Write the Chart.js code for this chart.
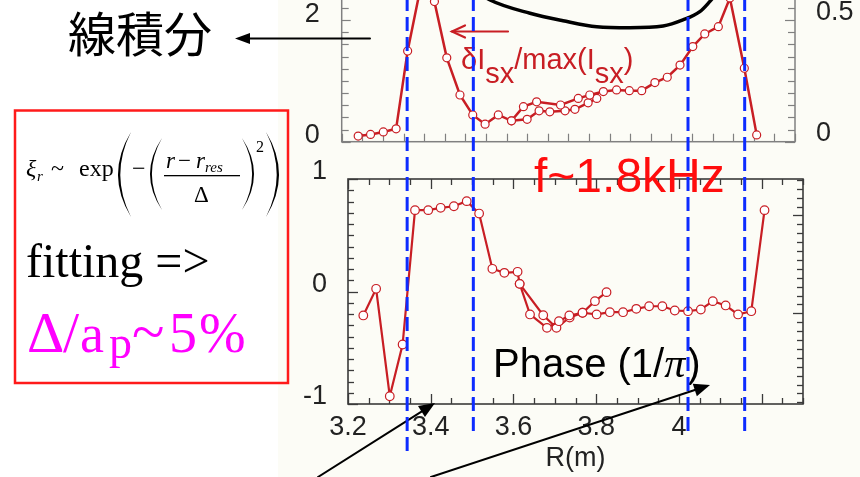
<!DOCTYPE html>
<html>
<head>
<meta charset="utf-8">
<script src="https://cdn.jsdelivr.net/npm/chart.js@4"></script>
<style>
  html, body { margin: 0; padding: 0; background: #fff; overflow: hidden; }
  #stage { position: relative; width: 860px; height: 477px; overflow: hidden; background: #fff; }
  #tint { position: absolute; left: 278px; top: 0; width: 582px; height: 477px; background: #fcfcf6; }
  canvas { position: absolute; left: 0; }
  #phase { top: 0; }
  #profile { top: -80px; }
  #notes { top: 0; pointer-events: none; }
</style>
</head>
<body>
<div id="stage">
  <div id="tint"></div>
  <canvas id="phase" width="860" height="477"></canvas>
  <canvas id="profile" width="860" height="260"></canvas>
  <canvas id="notes" width="860" height="477"></canvas>
</div>
<script>
// ---- upper panel: line-integrated SX (left axis) ----
const lineIntR   = [3.50, 3.560, 3.657, 3.737, 3.819, 3.899, 3.980, 4.028, 4.069, 4.093, 4.13];
const lineIntVal = [2.60, 2.330, 2.112, 1.990, 1.891, 1.875, 1.903, 2.002, 2.138, 2.303, 2.60];

// ---- upper panel: fluctuation amplitude dI_sx/max(I_sx) (right axis) ----
const ampR1 = [3.240, 3.270, 3.301, 3.332, 3.360, 3.400, 3.425, 3.455, 3.487, 3.518, 3.548,
               3.580, 3.612, 3.641, 3.673, 3.731, 3.774, 3.802, 3.835, 3.867, 3.898, 3.928,
               3.960, 3.990, 4.021, 4.052, 4.081, 4.114, 4.142, 4.177, 4.207];
const amp1  = [0.023, 0.030, 0.040, 0.053, 0.373, 0.706, 0.576, 0.345, 0.192, 0.110, 0.072,
               0.110, 0.086, 0.144, 0.164, 0.151, 0.178, 0.192, 0.206, 0.213, 0.210, 0.210,
               0.243, 0.265, 0.315, 0.391, 0.443, 0.473, 0.591, 0.302, 0.028];
const ampR2 = [3.612, 3.650, 3.679, 3.705, 3.742, 3.766, 3.798, 3.819];
const amp2  = [0.086, 0.092, 0.127, 0.123, 0.127, 0.133, 0.160, 0.178];

// ---- lower panel: phase in units of pi ----
const phaseR1 = [3.237, 3.268, 3.301, 3.332, 3.362, 3.394, 3.424, 3.456, 3.487, 3.517, 3.549,
                 3.578, 3.610, 3.615, 3.640, 3.681, 3.710, 3.735, 3.767, 3.801, 3.833, 3.865,
                 3.897, 3.928, 3.960, 3.990, 4.022, 4.053, 4.082, 4.113, 4.143, 4.175, 4.207];
const phase1  = [-0.213, 0.024, -0.931, -0.471, 0.723, 0.723, 0.744, 0.758, 0.803, 0.693, 0.202,
                 0.166, 0.175, 0.068, -0.204, -0.323, -0.264, -0.213, -0.189, -0.204, -0.184, -0.184,
                 -0.154, -0.131, -0.131, -0.169, -0.175, -0.160, -0.086, -0.124, -0.204, -0.175, 0.723];
const phaseR2 = [3.615, 3.672, 3.704, 3.736, 3.767, 3.797, 3.825];
const phase2  = [0.068, -0.211, -0.323, -0.231, -0.189, -0.086, -0.006];

// resonance positions marked by dashed guides (m)
const resonanceR = [3.343, 3.503, 4.022, 4.159];

// tick labels
const rTickLabels = ['3.2', '3.4', '3.6', '3.8', '4', '4.2'];
const phaseTickLabels = ['-1', '0', '1'];
const intTickLabels = ['0', '2'];
const ampTickLabels = ['0', '0.5'];

// ---- styling ----
const RED = '#c81e24';
const SANS = '"Liberation Sans", Arial, sans-serif';
const SERIF = '"Liberation Serif", "Times New Roman", serif';

const pts = (xs, ys) => xs.map((x, i) => ({ x, y: ys[i] }));
const near = (a, b) => Math.abs(a - b) < 1e-6;

function redSeries(xs, ys, axis, w, r) {
  return {
    data: pts(xs, ys), yAxisID: axis,
    borderColor: RED, borderWidth: w, tension: 0,
    pointRadius: r, pointBackgroundColor: '#fff',
    pointBorderColor: RED, pointBorderWidth: 1.2
  };
}

// frame around the plot area with inward tick marks
const frameTicks = {
  id: 'frameTicks',
  beforeDatasetsDraw(chart, args, opts) {
    const { ctx, chartArea: a } = chart;
    ctx.save();
    ctx.strokeStyle = opts.color;
    ctx.lineWidth = opts.width;
    ctx.strokeRect(a.left, a.top, a.right - a.left, a.bottom - a.top);
    ctx.lineWidth = opts.tickWidth;
    for (const t of opts.marks) {
      const s = chart.scales[t.scale];
      const k0 = Math.ceil(s.min / t.step - 1e-6);
      for (let k = k0; k * t.step <= s.max + 1e-9; k++) {
        const v = k * t.step;
        const q = v / t.major;
        const len = near(q, Math.round(q)) ? t.majorLen : t.minorLen;
        const p = Math.round(s.getPixelForValue(v)) + 0.5;
        ctx.beginPath();
        for (const e of t.edges) {
          if (e === 'bottom') { ctx.moveTo(p, a.bottom); ctx.lineTo(p, a.bottom - len); }
          if (e === 'top')    { ctx.moveTo(p, a.top);    ctx.lineTo(p, a.top + len); }
          if (e === 'left')   { ctx.moveTo(a.left, p);   ctx.lineTo(a.left + len, p); }
          if (e === 'right')  { ctx.moveTo(a.right, p);  ctx.lineTo(a.right - len, p); }
        }
        ctx.stroke();
      }
    }
    ctx.restore();
  }
};

const tickFont = { family: SANS, size: 27 };

// ---- lower chart: phase ----
const phaseChart = new Chart(document.getElementById('phase'), {
  type: 'line',
  data: {
    datasets: [
      redSeries(phaseR1, phase1, 'y', 2.2, 4.3),
      redSeries(phaseR2, phase2, 'y', 2.2, 4.3)
    ]
  },
  options: {
    responsive: false, animation: false, events: [],
    layout: { padding: { top: 179, left: 0, right: 0, bottom: 0 } },
    plugins: {
      legend: { display: false }, tooltip: { enabled: false },
      frameTicks: {
        color: '#3a3a3a', width: 1.6, tickWidth: 1.3,
        marks: [
          { scale: 'x', step: 0.05, major: 0.2, minorLen: 6, majorLen: 10, edges: ['bottom', 'top'] },
          { scale: 'y', step: 0.1, major: 1, minorLen: 6, majorLen: 10, edges: ['left'] },
          { scale: 'yR', step: 1, major: 11, minorLen: 6, majorLen: 10, edges: ['right'] }
        ]
      }
    },
    scales: {
      x: {
        type: 'linear', min: 3.2, max: 4.3,
        afterFit(s) { s.height = 73; },
        grid: { display: false }, border: { display: false },
        ticks: {
          stepSize: 0.2, autoSkip: false, maxRotation: 0, padding: -1,
          font: tickFont, color: '#222',
          callback(v) {
            const i = Math.round((v - 3.2) / 0.2);
            return near(v, 3.2 + i * 0.2) && i < rTickLabels.length ? rTickLabels[i] : '';
          }
        },
        title: { display: true, text: 'R(m)', color: '#222',
                 font: { family: SANS, size: 27 }, padding: { top: 0, bottom: 2 } }
      },
      y: {
        position: 'left', min: -1, max: 1,
        afterFit(s) { s.width = 348; },
        grid: { display: false }, border: { display: false },
        ticks: {
          stepSize: 1, padding: 13, labelOffset: -7, font: tickFont, color: '#222',
          callback(v) { const i = Math.round(v) + 1; return near(v, Math.round(v)) ? phaseTickLabels[i] : ''; }
        }
      },
      yR: {
        position: 'right', min: -10.19, max: 15.09,
        afterFit(s) { s.width = 57; },
        grid: { display: false }, border: { display: false },
        ticks: { display: false }
      }
    }
  },
  plugins: [frameTicks]
});

// ---- upper chart: line integral and fluctuation amplitude ----
const profileChart = new Chart(document.getElementById('profile'), {
  type: 'line',
  data: {
    datasets: [
      redSeries(ampR1, amp1, 'yAmp', 2.5, 4),
      redSeries(ampR2, amp2, 'yAmp', 2.5, 4),
      {
        data: pts(lineIntR, lineIntVal), yAxisID: 'yInt',
        borderColor: '#000', borderWidth: 3.5, pointRadius: 0,
        cubicInterpolationMode: 'monotone'
      }
    ]
  },
  options: {
    responsive: false, animation: false, events: [],
    layout: { padding: { top: 39.3, left: 0, right: 0, bottom: 0 } },
    plugins: {
      legend: { display: false }, tooltip: { enabled: false },
      frameTicks: {
        color: '#808080', width: 1.5, tickWidth: 1.2,
        marks: [
          { scale: 'x', step: 0.05, major: 0.05, minorLen: 8, majorLen: 8, edges: ['bottom'] },
          { scale: 'yInt', step: 0.2, major: 2, minorLen: 7, majorLen: 9, edges: ['left'] },
          { scale: 'yAmp', step: 0.05, major: 0.5, minorLen: 7, majorLen: 10, edges: ['right'] }
        ]
      }
    },
    scales: {
      x: {
        type: 'linear', min: 3.2, max: 4.3,
        afterFit(s) { s.height = 38.3; },
        grid: { display: false }, border: { display: false },
        ticks: { display: false }
      },
      yInt: {
        position: 'left', min: 0, max: 3,
        afterFit(s) { s.width = 341.7; },
        grid: { display: false }, border: { display: false },
        ticks: {
          stepSize: 2, padding: 14, labelOffset: -6, font: tickFont, color: '#222',
          callback(v) { return near(v, 0) ? intTickLabels[0] : near(v, 2) ? intTickLabels[1] : ''; }
        }
      },
      yAmp: {
        position: 'right', min: 0, max: 0.75,
        afterFit(s) { s.width = 65; },
        grid: { display: false }, border: { display: false },
        ticks: {
          stepSize: 0.5, padding: 13, labelOffset: -8, font: tickFont, color: '#222',
          callback(v) { return near(v, 0) ? ampTickLabels[0] : near(v, 0.5) ? ampTickLabels[1] : ''; }
        }
      }
    }
  },
  plugins: [frameTicks]
});

// ---- annotations ----
const ctx = document.getElementById('notes').getContext('2d');

function arrow(x0, y0, x1, y1, color, lw, head, half, filled) {
  const ang = Math.atan2(y1 - y0, x1 - x0);
  const bx = x1 - head * Math.cos(ang), by = y1 - head * Math.sin(ang);
  const nx = -Math.sin(ang) * half, ny = Math.cos(ang) * half;
  ctx.save();
  ctx.strokeStyle = color; ctx.fillStyle = color; ctx.lineWidth = lw; ctx.lineCap = 'round';
  ctx.beginPath(); ctx.moveTo(x0, y0);
  ctx.lineTo(filled ? bx : x1, filled ? by : y1); ctx.stroke();
  ctx.beginPath();
  if (filled) {
    ctx.moveTo(x1, y1); ctx.lineTo(bx + nx, by + ny); ctx.lineTo(bx - nx, by - ny); ctx.closePath(); ctx.fill();
  } else {
    ctx.moveTo(bx + nx, by + ny); ctx.lineTo(x1, y1); ctx.lineTo(bx - nx, by - ny); ctx.stroke();
  }
  ctx.restore();
}

// tall bracket drawn as a crescent
function paren(xEnd, xMid, yTop, yBot, w) {
  const ym = (yTop + yBot) / 2;
  const c1 = 2 * xMid - xEnd;
  const c2 = c1 + (xEnd > xMid ? 2 * w : -2 * w);
  ctx.beginPath();
  ctx.moveTo(xEnd, yTop);
  ctx.quadraticCurveTo(c1, ym, xEnd, yBot);
  ctx.quadraticCurveTo(c2, ym, xEnd, yTop);
  ctx.fill();
}

// fit box
ctx.strokeStyle = '#ff1a1a'; ctx.lineWidth = 2.5;
ctx.strokeRect(15, 110.5, 273, 272.5);

// displacement profile formula
ctx.fillStyle = '#000';
ctx.textBaseline = 'alphabetic';
ctx.font = 'italic 24px ' + SERIF; ctx.fillText('ξ', 26, 176);
ctx.font = 'italic 15px ' + SERIF; ctx.fillText('r', 37, 181);
ctx.font = '24px ' + SERIF; ctx.fillText('~', 51, 176);
ctx.fillText('exp', 79, 176);
paren(131, 118, 132, 217, 2.3);
ctx.fillText('−', 132, 176);
paren(162, 150, 138, 210, 1.9);
ctx.font = 'italic 23px ' + SERIF; ctx.fillText('r', 166, 168);
ctx.font = '23px ' + SERIF; ctx.fillText('−', 178, 168);
ctx.font = 'italic 23px ' + SERIF; ctx.fillText('r', 196, 168);
ctx.font = 'italic 15px ' + SERIF; ctx.fillText('res', 205, 172);
ctx.fillRect(164, 175, 76, 1.3);
ctx.font = '23px ' + SERIF; ctx.fillText('Δ', 194, 202);
paren(242, 254, 138, 210, 1.9);
ctx.font = '16px ' + SERIF; ctx.fillText('2', 256, 152);
paren(266, 279, 132, 217, 2.3);

ctx.font = '48px ' + SERIF; ctx.fillText('fitting =>', 26, 277);

ctx.fillStyle = '#ff00ff';
ctx.font = '58px ' + SERIF; ctx.fillText('Δ', 27, 352); ctx.fillText('/', 63, 352);
ctx.font = '54px ' + SERIF; ctx.fillText('a', 80, 352);
ctx.font = '46px ' + SERIF; ctx.fillText('p', 109, 358);
ctx.font = '60px ' + SERIF; ctx.fillText('~', 132, 352);
ctx.font = '56px ' + SERIF; ctx.fillText('5', 169, 352); ctx.fillText('%', 199, 352);

// Japanese label for the line-integrated signal
ctx.fillStyle = '#000';
ctx.font = '48px "Noto Sans CJK JP", "Noto Sans CJK SC", sans-serif';
ctx.fillText('線積分', 68, 52);
arrow(370, 38.5, 235, 38.5, '#000', 2, 15, 5.5, true);

// amplitude label
ctx.fillStyle = RED;
let x = 461;
function part(t, dy) {
  ctx.font = '29px ' + SANS;
  ctx.fillText(t, x, 69 + dy);
  x += ctx.measureText(t).width;
}
part('δI', 0); part('sx', 13.5); part('/max(I', 0); part('sx', 13.5); part(')', 0);
arrow(508, 31.5, 452, 31.5, RED, 2.2, 13, 6, false);

// frequency
ctx.fillStyle = '#ff0d0d';
ctx.font = '48px ' + SANS;
ctx.fillText('f~1.8kHz', 534, 192);

// phase label
ctx.fillStyle = '#000';
ctx.font = '40px ' + SANS;
ctx.fillText('Phase (1/', 493, 377);
let px = 493 + ctx.measureText('Phase (1/').width;
ctx.font = 'italic 42px ' + SERIF;
ctx.fillText('π', px, 377);
px += ctx.measureText('π').width + 2;
ctx.font = '40px ' + SANS;
ctx.fillText(')', px, 377);

// pointer arrows at the bottom
arrow(318, 477, 435, 403, '#000', 2, 16, 6.5, true);
arrow(431, 477, 710, 385, '#000', 2, 16, 6.5, true);

// dashed guides at the resonance positions, mapped through the phase R axis
const guideEnd = [452, 437, 437, 437];
ctx.save();
ctx.strokeStyle = '#0d2bff'; ctx.lineWidth = 3; ctx.setLineDash([14, 6]);
resonanceR.forEach((r, i) => {
  const gx = phaseChart.scales.x.getPixelForValue(r);
  ctx.beginPath(); ctx.moveTo(gx, -3); ctx.lineTo(gx, guideEnd[i]); ctx.stroke();
});
ctx.restore();
</script>
</body>
</html>
